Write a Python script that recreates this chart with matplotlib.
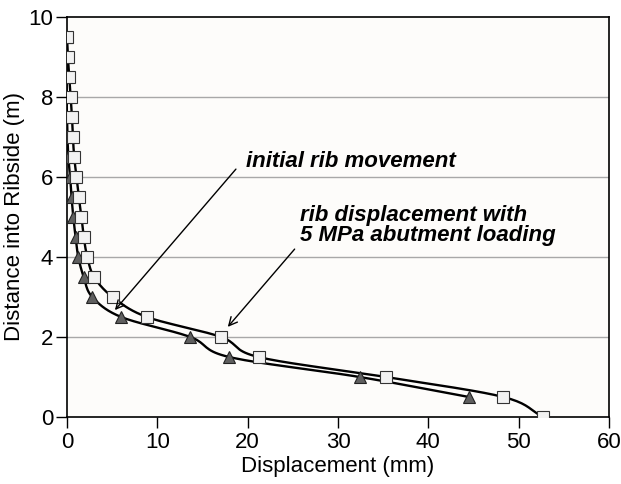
import numpy as np
import matplotlib
matplotlib.use("Agg")
import matplotlib.pyplot as plt

# ---- data ----
depth_sq = [9.5, 9.0, 8.5, 8.0, 7.5, 7.0, 6.5, 6.0, 5.5, 5.0, 4.5, 4.0, 3.5, 3.0, 2.5, 2.0, 1.5, 1.0, 0.5, 0.0]
disp_sq = [0.0, 0.1, 0.25, 0.4, 0.55, 0.65, 0.8, 1.05, 1.3, 1.6, 1.85, 2.25, 3.0, 5.05, 8.85, 17.05, 21.2, 35.3, 48.3, 52.7]

depth_tri = [9.5, 9.0, 8.5, 8.0, 7.5, 7.0, 6.5, 6.0, 5.5, 5.0, 4.5, 4.0, 3.5, 3.0, 2.5, 2.0, 1.5, 1.0, 0.5]
disp_tri = [-0.05, -0.05, -0.05, -0.05, 0.0, 0.05, 0.15, 0.35, 0.5, 0.7, 0.95, 1.25, 1.85, 2.8, 6.0, 13.65, 17.95, 32.4, 44.5]

x_ticks = [0, 10, 20, 30, 40, 50, 60]
y_ticks = [0, 2, 4, 6, 8, 10]

plt.rcParams['font.family'] = ['Liberation Sans', 'DejaVu Sans']

def smooth(x, y, sx=9.04, sy=40.0, n=20):
    """Catmull-Rom smoothing (Excel-like) computed in approx. screen units."""
    P = np.column_stack([np.asarray(x) * sx, np.asarray(y) * sy])
    P = np.vstack([P[0] - (P[1] - P[0]), P, P[-1] + (P[-1] - P[-2])])
    out = []
    for i in range(1, len(P) - 2):
        p0, p1, p2, p3 = P[i - 1], P[i], P[i + 1], P[i + 2]
        c1 = p1 + (p2 - p0) / 6.0
        c2 = p2 - (p3 - p1) / 6.0
        t = np.linspace(0, 1, n)[:, None]
        seg = ((1 - t) ** 3) * p1 + 3 * ((1 - t) ** 2) * t * c1 + 3 * (1 - t) * t ** 2 * c2 + t ** 3 * p2
        out.append(seg if i == len(P) - 3 else seg[:-1])
    S = np.vstack(out)
    return S[:, 0] / sx, S[:, 1] / sy

fig = plt.figure(figsize=(6.21, 4.84), dpi=100)
ax = fig.add_axes([67 / 621, 1 - 417 / 484, (609 - 67) / 621, (417 - 17) / 484])
ax.set_facecolor('#fdfcfa')

for v in y_ticks[1:-1]:
    ax.axhline(v, color='#a8a8a8', lw=1.0, zorder=1)

xs, ys = smooth(disp_tri, depth_tri)
ax.plot(xs, ys, color='black', lw=1.7, zorder=3)
ax.plot(disp_tri, depth_tri, ls='none', marker='^', ms=9, mfc='#5f5f5f', mec='#222222', mew=0.8, zorder=4)

xs, ys = smooth(disp_sq, depth_sq)
ax.plot(xs, ys, color='black', lw=1.7, zorder=3)
ax.plot(disp_sq, depth_sq, ls='none', marker='s', ms=8, mfc='#f2f2f2', mec='#333333', mew=0.8, zorder=5)

ax.set_xlim(0, 60)
ax.set_ylim(0, 10)
ax.set_xticks(x_ticks)
ax.set_yticks(y_ticks)
ax.tick_params(direction='out', length=8, width=1, labelsize=16)
ax.tick_params(axis='x', pad=3)
ax.tick_params(axis='y', pad=2)
for s in ax.spines.values():
    s.set_linewidth(1.2)
ax.set_xlabel('Displacement (mm)', fontsize=16, labelpad=2)
ax.set_ylabel('Distance into Ribside (m)', fontsize=16, labelpad=2)

ax.annotate('', xy=(5.1, 2.62), xytext=(18.9, 6.25),
            arrowprops=dict(arrowstyle='->', color='black', lw=1.0, mutation_scale=15), zorder=6)
ax.annotate('', xy=(17.6, 2.2), xytext=(25.4, 4.25),
            arrowprops=dict(arrowstyle='->', color='black', lw=1.0, mutation_scale=15), zorder=6)

tkw = dict(fontsize=16, fontweight='bold', style='italic', ha='left', va='baseline', zorder=7)
ax.text(19.8, 6.25, 'initial rib movement', **tkw)
ax.text(25.8, 4.9, 'rib displacement with', **tkw)
ax.text(25.8, 4.4, '5 MPa abutment loading', **tkw)

fig.savefig('out.png', dpi=100)
